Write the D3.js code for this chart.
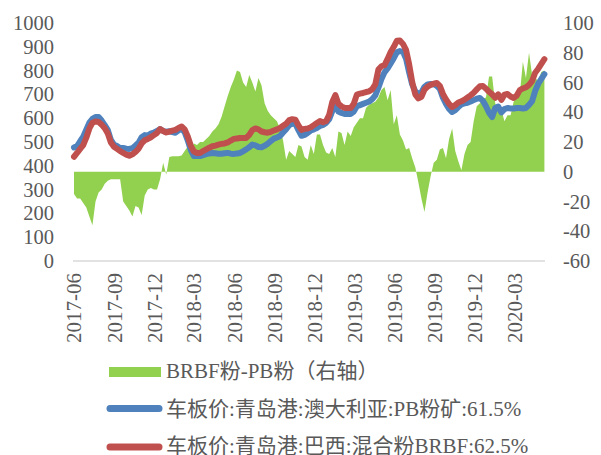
<!DOCTYPE html>
<html>
<head>
<meta charset="utf-8">
<script src="https://cdn.jsdelivr.net/npm/d3@7"></script>
<style>
  body { margin: 0; background: #fff; }
  text { font-family: "Liberation Serif", "Times New Roman", "Noto Sans CJK SC", serif; fill: #595959; }
</style>
</head>
<body>
<div id="main"></div>
<script>
// weekly samples starting 2017-06-01
const startDate = "2017-06-01";

// BRBF粉-PB粉 spread (right axis)
const spread = [
  -15,-18,-18,-21,-24,-30,-36,-20,-14,-12,
  -8,-6,-5,-5,-5,-5,-20,-23,-26,-30,
  -23,-24,-29,-16,-12,-11,-12,-12,-5,6,
  -2,10,10.5,10.5,10.5,11,14,17,16,19,
  18,20,20,22,24,27,29,32,37,44,
  51,57,62,68,67,60,57,65,60,54,
  63,58,46,41,38,36,34,29,21,8,
  14,12,10,18,17,10,8,18,12,25,
  25,18,13,12,16,10,27,26,18,27,
  24,30,33,36,36,43,45,46,47,50,
  55,57,48,55,32,38,25,21,15,16,
  9,3,-7,-18,-27,-14,-3,6,8,15,
  16,9,22,29,14,7,1,12,18,20,
  34,44,46,49,50,64,64,46,41,42,
  34,38,38,47,51,52,74,63,80,65,
  63,61,67,68
];

// 车板价:青岛港:澳大利亚:PB粉矿:61.5%
const pbPrice = [
  477,483,503,522,552,581,597,605,605,590,
  571,550,509,489,483,475,475,472,471,474,
  485,497,520,529,527,535,540,546,554,546,
  543,545,542,539,549,557,541,507,466,441,
  441,441,445,449,452,454,453,451,451,453,
  454,451,450,452,454,461,469,478,489,486,
  479,478,484,493,504,514,519,525,540,554,
  571,577,577,550,526,530,538,548,553,559,
  567,572,580,596,630,659,628,622,618,618,
  618,628,650,655,660,665,670,680,696,728,
  765,793,809,830,852,877,882,879,850,793,
  742,713,700,708,732,742,744,743,736,723,
  686,660,639,626,634,647,658,662,665,670,
  676,682,685,673,650,623,605,643,649,624,
  638,643,641,641,643,643,641,643,656,672,
  715,745,765,785
];

// 车板价:青岛港:巴西:混合粉BRBF:62.5%
const brbfPrice = [
  438,454,471,487,518,557,581,586,584,573,
  558,536,498,480,471,462,454,447,442,448,
  458,472,494,507,513,520,529,538,554,546,
  540,544,548,551,559,565,553,523,484,460,
  454,454,462,469,476,482,485,489,492,494,
  498,506,513,515,517,517,517,530,550,557,
  553,544,541,539,543,548,553,559,568,577,
  592,596,594,570,551,555,557,562,571,580,
  588,583,588,614,668,697,661,650,643,643,
  643,661,699,703,706,710,713,722,742,804,
  818,823,849,878,900,925,926,912,887,827,
  752,700,683,690,720,733,740,745,748,736,
  702,679,660,647,655,666,671,678,687,696,
  707,721,734,735,724,711,700,686,700,677,
  699,702,691,685,695,718,725,730,740,756,
  791,808,828,848
];

const xTickLabels = ["2017-06","2017-09","2017-12","2018-03","2018-06","2018-09",
                     "2018-12","2019-03","2019-06","2019-09","2019-12","2020-03"];
const leftTicks = [0,100,200,300,400,500,600,700,800,900,1000];
const rightTicks = [-60,-40,-20,0,20,40,60,80,100];
const legendNames = ["BRBF粉-PB粉（右轴）", "车板价:青岛港:澳大利亚:PB粉矿:61.5%", "车板价:青岛港:巴西:混合粉BRBF:62.5%"];

const ctx = {
    W: 601,
    H: 455,
    left: 74,
    right: 544.4,
    top: 23,
    bottom: 261,
    green: "#92D050",
    blue: "#4F81BD",
    red: "#C0504D",
};

function drawChart(svg) {
    const parse = d3.timeParse("%Y-%m-%d");
    const parseMonth = d3.timeParse("%Y-%m");
    const t0 = parse(startDate);
    const dates = spread.map((d, i) => d3.timeDay.offset(t0, 7 * i));

    const x = d3.scaleTime()
        .domain([dates[0], dates[dates.length - 1]])
        .range([ctx.left, ctx.right]);
    const yL = d3.scaleLinear().domain([0, 1000]).range([ctx.bottom, ctx.top]);
    const yR = d3.scaleLinear().domain([-60, 100]).range([ctx.bottom, ctx.top]);
    const plain = d => String(d);

    // green area, right axis
    const area = d3.area()
        .x((d, i) => x(dates[i]))
        .y0(yR(0))
        .y1(d => yR(d));
    svg.append("path")
        .datum(spread)
        .attr("d", area)
        .attr("fill", ctx.green);

    // price lines, left axis
    const line = d3.line()
        .x((d, i) => x(dates[i]))
        .y(d => yL(d));
    [[pbPrice, ctx.blue], [brbfPrice, ctx.red]].forEach(([s, c]) => {
        svg.append("path")
            .datum(s)
            .attr("d", line)
            .attr("fill", "none")
            .attr("stroke", c)
            .attr("stroke-width", 6)
            .attr("stroke-linejoin", "round")
            .attr("stroke-linecap", "round");
    });

    // x axis
    const xAxis = svg.append("g")
        .attr("transform", `translate(0, ${ctx.bottom})`)
        .call(d3.axisBottom(x)
            .tickValues(xTickLabels.map(parseMonth))
            .tickSize(0)
            .tickFormat(d3.timeFormat("%Y-%m")));
    xAxis.select(".domain")
        .attr("d", `M73,0H545`)
        .attr("stroke", "#d9d9d9")
        .attr("stroke-width", 1.5);
    xAxis.selectAll("text")
        .attr("font-size", 21)
        .attr("text-anchor", "end")
        .attr("y", 0)
        .attr("dy", "0.33em")
        .attr("transform", "translate(0, 12) rotate(-90)");
    xAxis.attr("font-family", null).attr("font-size", null);

    // left axis
    const lAxis = svg.append("g")
        .attr("transform", `translate(73, 0)`)
        .call(d3.axisLeft(yL).tickValues(leftTicks).tickFormat(plain).tickSize(0).tickPadding(19));
    lAxis.select(".domain").remove();
    lAxis.attr("font-family", null).attr("font-size", 20.5);

    // right axis
    const rAxis = svg.append("g")
        .attr("transform", `translate(545, 0)`)
        .call(d3.axisRight(yR).tickValues(rightTicks).tickFormat(plain).tickSize(0).tickPadding(18));
    rAxis.select(".domain").remove();
    rAxis.attr("font-family", null).attr("font-size", 20.5);

    // legend
    const lg = svg.append("g").attr("font-size", 21);
    lg.append("rect")
        .attr("x", 109).attr("y", 367)
        .attr("width", 52).attr("height", 10)
        .attr("fill", ctx.green);
    [[ctx.blue, 408.5], [ctx.red, 447]].forEach(([c, yy]) => {
        lg.append("line")
            .attr("x1", 110).attr("x2", 159)
            .attr("y1", yy).attr("y2", yy)
            .attr("stroke", c)
            .attr("stroke-width", 7)
            .attr("stroke-linecap", "round");
    });
    lg.selectAll("text.leg")
        .data(legendNames)
        .enter()
        .append("text")
        .attr("class", "leg")
        .attr("x", 166)
        .attr("y", (d, i) => 378 + i * 37.5)
        .text(d => d);
}

function createViz() {
    const svg = d3.select("#main").append("svg")
        .attr("width", ctx.W)
        .attr("height", ctx.H);
    drawChart(svg);
}

createViz();
</script>
</body>
</html>
